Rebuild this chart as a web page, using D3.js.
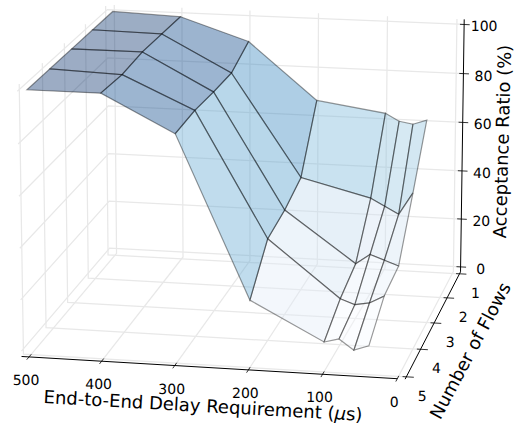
<!DOCTYPE html>
<html>
<head>
<meta charset="utf-8">
<script src="https://cdn.jsdelivr.net/npm/d3@7"></script>
<style>
  html, body { margin: 0; padding: 0; background: #fff; }
  svg { display: block; }
  text { font-family: "DejaVu Sans", sans-serif; fill: #000; text-rendering: geometricPrecision; }
</style>
</head>
<body>
<div id="chart"></div>
<script>
// ---------------------------------------------------------
// 1. DATA - acceptance ratio (%)
// ---------------------------------------------------------
const delays = [500, 400, 300, 200, 100, 80, 60, 40];
const flows = [1, 2, 3, 4, 5];
const flow1 = [100, 99, 90, 67, 63, 60, 59, 61];
const flow2 = [100, 99.5, 85, 44, 37, 34, 31, 40];
const flow3 = [100, 100, 85.5, 40, 20, 24, 22, 20];
const flow4 = [100, 99, 86.5, 38, 16, 14, 15, 18];
const flow5 = [100, 100, 86, 24, 9.5, 11, 7, 9];
const acceptance = [flow1, flow2, flow3, flow4, flow5];

const delayTicks = [500, 400, 300, 200, 100, 0];
const flowTicks = [1, 2, 3, 4, 5];
const ratioTicks = [0, 20, 40, 60, 80, 100];

// ---------------------------------------------------------
// 2. SVG + SCALES (limits have the 1/48 margin of a 3D axes)
// ---------------------------------------------------------
const width = 520, height = 424;
const xMin = -10.4, xMax = 510.4, yMin = 0.917, yMax = 5.083, zMin = -2.08, zMax = 102.08;

const xScale = d3.scaleLinear().domain([xMin, xMax]).range([-0.5, 0.5]);
const yScale = d3.scaleLinear().domain([yMin, yMax]).range([-0.5, 0.5]);
const zScale = d3.scaleLinear().domain([zMin, zMax]).range([-0.5, 0.5]);

const svg = d3.select("#chart").append("svg")
    .attr("width", width)
    .attr("height", height);

// ---------------------------------------------------------
// 3. CAMERA - perspective view, angles in degrees
// ---------------------------------------------------------
const elev = 14.725 * Math.PI / 180;
const azim = 101.103 * Math.PI / 180;
const dist = 10.154, zoom = 376.8, cx = 249.2, cy = 183.1, zAspect = 0.717;

function depth(x, y, z) {
  const px = xScale(x), py = yScale(y), pz = zScale(z) * zAspect;
  return dist - (px * Math.cos(elev) * Math.cos(azim) + py * Math.cos(elev) * Math.sin(azim) + pz * Math.sin(elev));
}

function project(x, y, z) {
  const px = xScale(x), py = yScale(y), pz = zScale(z) * zAspect;
  const w = dist / depth(x, y, z);
  const right = -px * Math.sin(azim) + py * Math.cos(azim);
  const up = -px * Math.sin(elev) * Math.cos(azim) - py * Math.sin(elev) * Math.sin(azim) + pz * Math.cos(elev);
  return [cx + zoom * w * right, cy - zoom * w * up];
}

const line = d3.line();

function drawPath(g, points, color, strokeWidth) {
  g.append("path")
    .attr("d", line(points.map(p => project(p[0], p[1], p[2]))))
    .attr("fill", "none")
    .attr("stroke", color)
    .attr("stroke-width", strokeWidth);
}

// ---------------------------------------------------------
// 4. GRID ON THE THREE PANES
// ---------------------------------------------------------
const grid = svg.append("g");
const gridColor = "#e8e8e8";

delayTicks.forEach(x => drawPath(grid, [[x, yMax, zMin], [x, yMin, zMin], [x, yMin, zMax]], gridColor, 1.25));
flowTicks.forEach(y => drawPath(grid, [[xMin, y, zMin], [xMax, y, zMin], [xMax, y, zMax]], gridColor, 1.25));
ratioTicks.forEach(z => drawPath(grid, [[xMin, yMin, z], [xMax, yMin, z], [xMax, yMax, z]], gridColor, 1.25));

// ---------------------------------------------------------
// 5. SURFACE - one face per cell, far faces first
// ---------------------------------------------------------
const faces = [];
flows.slice(1).forEach((flow, i) => {
  delays.slice(1).forEach((delay, j) => {
    const corners = [
      [delays[j], flows[i], acceptance[i][j]],
      [delay, flows[i], acceptance[i][j + 1]],
      [delay, flow, acceptance[i + 1][j + 1]],
      [delays[j], flow, acceptance[i + 1][j]]
    ];
    faces.push({
      corners,
      mean: d3.mean(corners, c => c[2]),
      depth: d3.mean(corners, c => depth(c[0], c[1], c[2]))
    });
  });
});

// Blues ramp stretched over the range of the face means
const faceExtent = d3.extent(faces, d => d.mean);
const blues = d3.scaleLinear()
    .domain(d3.range(9).map(i => faceExtent[0] + (faceExtent[1] - faceExtent[0]) * i / 8))
    .range(d3.schemeBlues[9]);

svg.append("g")
  .selectAll("path")
  .data(faces.sort((a, b) => d3.descending(a.depth, b.depth)))
  .enter().append("path")
    .attr("d", d => line(d.corners.map(c => project(c[0], c[1], c[2]))) + "Z")
    .attr("fill", d => blues(d.mean))
    .attr("fill-opacity", 0.4)
    .attr("stroke", "#000")
    .attr("stroke-opacity", 0.4)
    .attr("stroke-width", 1.2);

// ---------------------------------------------------------
// 6. AXES, TICKS, LABELS
// ---------------------------------------------------------
const axes = svg.append("g");
drawPath(axes, [[xMax, yMax, zMin], [0, yMax, zMin]], "#000", 1);
drawPath(axes, [[xMin, yMax, zMin], [xMin, yMin, zMin]], "#000", 1);
drawPath(axes, [[xMin, yMin, zMin], [xMin, yMin, zMax]], "#000", 1);

function tickLabel(pos, dx, dy, label) {
  axes.append("text")
    .attr("x", pos[0] + dx)
    .attr("y", pos[1] + dy)
    .attr("text-anchor", "middle")
    .attr("dominant-baseline", "central")
    .style("font-size", "14px")
    .text(label);
}

delayTicks.forEach(x => {
  drawPath(axes, [[x, yMax + 0.1, zMin], [x, yMax - 0.1, zMin]], "#000", 0.8);
  tickLabel(project(x, yMax, zMin), -3, 24, x);
});
flowTicks.forEach(y => {
  drawPath(axes, [[xMin + 5, y, zMin], [xMin - 10, y, zMin]], "#000", 0.8);
  tickLabel(project(xMin, y, zMin), 16, 20, y);
});
ratioTicks.forEach(z => {
  drawPath(axes, [[xMin + 6, yMin, z], [xMin - 8, yMin, z]], "#000", 0.8);
  tickLabel(project(xMin, yMin, z), 20, 3, z);
});

function axisLabel(x, y, angle) {
  return axes.append("text")
    .attr("transform", `translate(${x},${y}) rotate(${angle})`)
    .attr("text-anchor", "middle")
    .attr("dominant-baseline", "central")
    .style("font-size", "18px");
}

const delayLabel = axisLabel(203, 406, 3.2);
delayLabel.append("tspan").text("End-to-End Delay Requirement (");
delayLabel.append("tspan").style("font-style", "italic").text("\u03bc");
delayLabel.append("tspan").text("s)");

axisLabel(471, 351, -62).text("Number of Flows");
axisLabel(503, 141.5, -88.5).text("Acceptance Ratio (%)");
</script>
</body>
</html>
